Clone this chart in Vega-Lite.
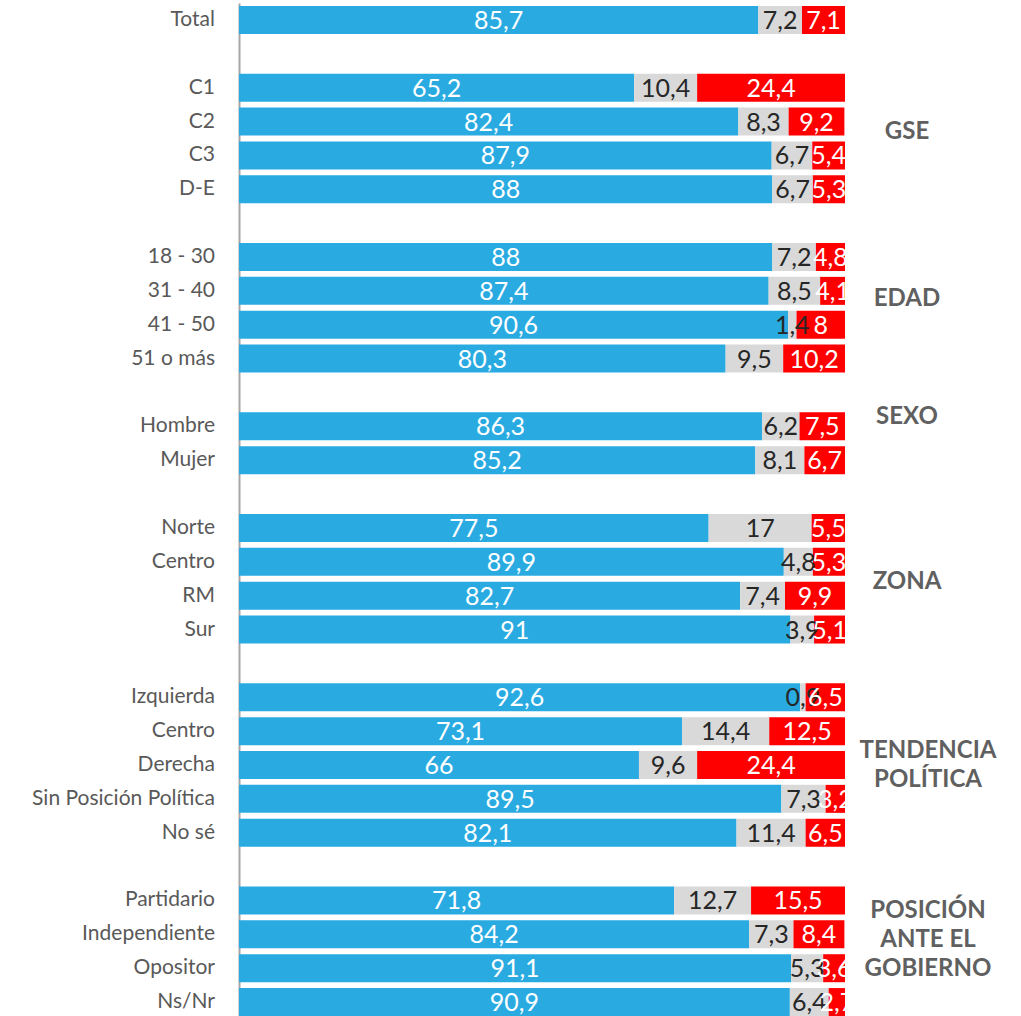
{
  "$schema": "https://vega.github.io/schema/vega-lite/v6.json",
  "width": 606,
  "height": 1016,
  "autosize": {"type": "none"},
  "padding": {"left": 239, "top": 3, "right": 176, "bottom": 0},
  "background": "white",
  "config": {
    "view": {"stroke": null},
    "locale": {"number": {"decimal": ",", "thousands": ".", "grouping": [3], "currency": ["", ""]}}
  },
  "datasets": {
    "filas": [
      {"pos": 0, "grupo": "Total", "si": 85.7, "ns": 7.2, "no": 7.1},
      {"pos": 2, "grupo": "C1", "si": 65.2, "ns": 10.4, "no": 24.4},
      {"pos": 3, "grupo": "C2", "si": 82.4, "ns": 8.3, "no": 9.2},
      {"pos": 4, "grupo": "C3", "si": 87.9, "ns": 6.7, "no": 5.4},
      {"pos": 5, "grupo": "D-E", "si": 88, "ns": 6.7, "no": 5.3},
      {"pos": 7, "grupo": "18 - 30", "si": 88, "ns": 7.2, "no": 4.8},
      {"pos": 8, "grupo": "31 - 40", "si": 87.4, "ns": 8.5, "no": 4.1},
      {"pos": 9, "grupo": "41 - 50", "si": 90.6, "ns": 1.4, "no": 8},
      {"pos": 10, "grupo": "51 o más", "si": 80.3, "ns": 9.5, "no": 10.2},
      {"pos": 12, "grupo": "Hombre", "si": 86.3, "ns": 6.2, "no": 7.5},
      {"pos": 13, "grupo": "Mujer", "si": 85.2, "ns": 8.1, "no": 6.7},
      {"pos": 15, "grupo": "Norte", "si": 77.5, "ns": 17, "no": 5.5},
      {"pos": 16, "grupo": "Centro", "si": 89.9, "ns": 4.8, "no": 5.3},
      {"pos": 17, "grupo": "RM", "si": 82.7, "ns": 7.4, "no": 9.9},
      {"pos": 18, "grupo": "Sur", "si": 91, "ns": 3.9, "no": 5.1},
      {"pos": 20, "grupo": "Izquierda", "si": 92.6, "ns": 0.9, "no": 6.5},
      {"pos": 21, "grupo": "Centro ", "si": 73.1, "ns": 14.4, "no": 12.5},
      {"pos": 22, "grupo": "Derecha", "si": 66, "ns": 9.6, "no": 24.4},
      {"pos": 23, "grupo": "Sin Posición Política", "si": 89.5, "ns": 7.3, "no": 3.2},
      {"pos": 24, "grupo": "No sé", "si": 82.1, "ns": 11.4, "no": 6.5},
      {"pos": 26, "grupo": "Partidario ", "si": 71.8, "ns": 12.7, "no": 15.5},
      {"pos": 27, "grupo": "Independiente", "si": 84.2, "ns": 7.3, "no": 8.4},
      {"pos": 28, "grupo": "Opositor", "si": 91.1, "ns": 5.3, "no": 3.6},
      {"pos": 29, "grupo": "Ns/Nr", "si": 90.9, "ns": 6.4, "no": 2.7}
    ],
    "secciones": [
      {"pos": 3.25, "t": "GSE"},
      {"pos": 8.18, "t": "EDAD"},
      {"pos": 11.67, "t": "SEXO"},
      {"pos": 16.54, "t": "ZONA"}
    ],
    "secciones2": [
      {"pos": 21.56, "t": ["TENDENCIA", "POLÍTICA"]},
      {"pos": 26.28, "t": ["POSICIÓN", "ANTE EL", "GOBIERNO"]}
    ]
  },
  "data": {"name": "filas"},
  "layer": [
    {
      "transform": [
        {"fold": ["si", "ns", "no"], "as": ["resp", "pct"]},
        {"stack": "pct", "groupby": ["pos"], "sort": [{"field": "resp", "order": "descending"}], "as": ["x0", "x1"]}
      ],
      "mark": {"type": "bar", "orient": "horizontal", "height": 28},
      "encoding": {
        "y": {"field": "pos", "type": "quantitative", "scale": {"domain": [-0.5, 29.5], "reverse": true, "nice": false, "zero": false, "padding": 0},
              "axis": {"labels": false, "ticks": false, "grid": false, "title": null, "domainColor": "#a6a6a6", "domainWidth": 2}},
        "x": {"field": "x0", "type": "quantitative", "scale": {"domain": [0, 100], "nice": false, "padding": 0}, "axis": null},
        "x2": {"field": "x1"},
        "color": {"field": "resp", "type": "nominal", "scale": {"domain": ["si", "ns", "no"], "range": ["#29abe2", "#d9d9d9", "#ff0000"]}, "legend": null}
      }
    },
    {
      "transform": [
        {"fold": ["si", "ns", "no"], "as": ["resp", "pct"]},
        {"stack": "pct", "groupby": ["pos"], "sort": [{"field": "resp", "order": "descending"}], "as": ["x0", "x1"]},
        {"calculate": "(datum.x0 + datum.x1) / 2", "as": "xm"}
      ],
      "mark": {"type": "text", "font": "Lato", "fontSize": 25, "baseline": "middle", "align": "center", "clip": true, "dy": 1},
      "encoding": {
        "y": {"field": "pos", "type": "quantitative"},
        "x": {"field": "xm", "type": "quantitative"},
        "text": {"field": "pct", "type": "quantitative", "format": ".3~r"},
        "color": {"condition": {"test": "datum.resp === 'ns'", "value": "#262626"}, "value": "#ffffff"}
      }
    },
    {
      "mark": {"type": "text", "font": "Lato", "fontSize": 21, "align": "right", "baseline": "middle", "dx": -24, "color": "#595959"},
      "encoding": {
        "y": {"field": "pos", "type": "quantitative"},
        "x": {"datum": 0},
        "text": {"field": "grupo", "type": "nominal"}
      }
    },
    {
      "data": {"name": "secciones"},
      "mark": {"type": "text", "font": "Lato", "fontSize": 24, "fontWeight": "bold", "align": "center", "baseline": "middle", "dx": 62, "dy": 2, "color": "#606060"},
      "encoding": {
        "y": {"field": "pos", "type": "quantitative"},
        "x": {"datum": 100},
        "text": {"field": "t", "type": "nominal"}
      }
    },
    {
      "data": {"name": "secciones2"},
      "mark": {"type": "text", "font": "Lato", "fontSize": 24, "fontWeight": "bold", "align": "center", "baseline": "middle", "dx": 83, "dy": 1, "lineHeight": 29, "color": "#606060"},
      "encoding": {
        "y": {"field": "pos", "type": "quantitative"},
        "x": {"datum": 100},
        "text": {"field": "t"}
      }
    }
  ]
}
